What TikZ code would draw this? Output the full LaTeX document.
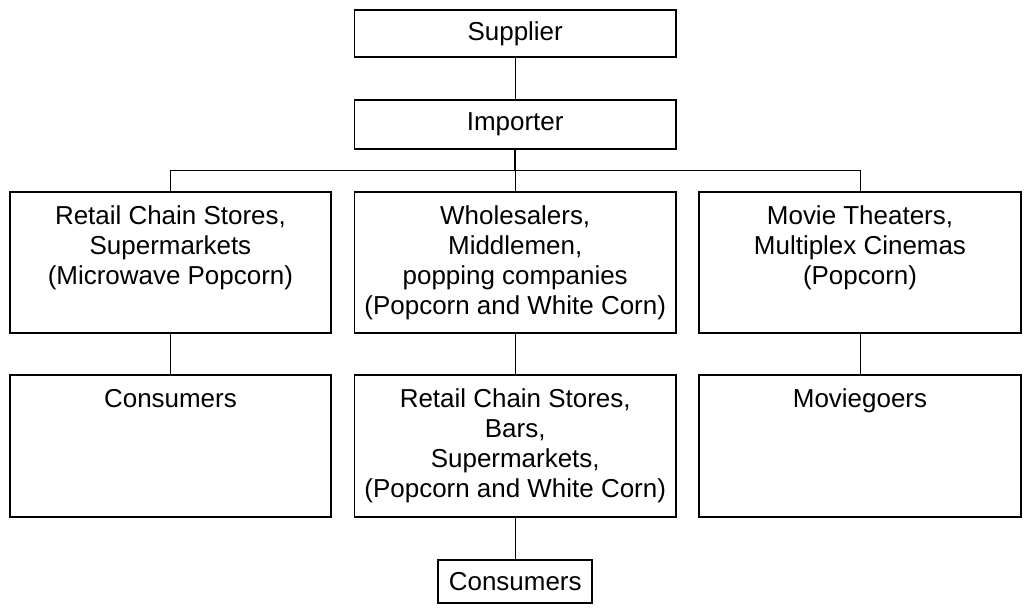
\documentclass[tikz,border=0pt]{standalone}
\usepackage{fontspec}
\setmainfont{Liberation Sans}
\usetikzlibrary{positioning}

\begin{document}
\begin{tikzpicture}[x=1pt, y=-1pt,
		box/.style={draw, line width=1.8pt, inner sep=0pt, minimum width=328pt},
		txt/.style={inner sep=0pt, align=center, font=\fontsize{26.5}{30.6}\selectfont},
		link/.style={line width=0.9pt},
		trunk/.style={line width=1.8pt}]
	\useasboundingbox (0, 0) rectangle (1053.6, 628);

	\coordinate (bus) at (526, 174);
	\coordinate (busL) at (174, 174);
	\coordinate (busR) at (878, 174);

	\node[box, txt, minimum height=48pt] (supplier) at (526, 34) {Supplier};
	\node[box, txt, minimum height=50pt] (importer) at (526, 127) {Importer};

	% first row
	\node[box, minimum height=144pt] (retail) at (174, 268) {};
	\node[box, minimum height=144pt] (wholesale) at (526, 268) {};
	\node[box, minimum height=144pt] (theaters) at (878, 268) {};
	\node[txt, below=15pt of retail.north] (retail-t) {Retail Chain Stores,\\Supermarkets\\(Microwave Popcorn)};
	\node[txt, below=15pt of wholesale.north] (wholesale-t) {Wholesalers,\\Middlemen,\\popping companies\\(Popcorn and White Corn)};
	\node[txt, below=15pt of theaters.north] (theaters-t) {Movie Theaters,\\Multiplex Cinemas\\(Popcorn)};

	% second row
	\node[box, minimum height=145pt] (consumers) at (174, 455.5) {};
	\node[box, minimum height=145pt] (stores) at (526, 455.5) {};
	\node[box, minimum height=145pt] (moviegoers) at (878, 455.5) {};
	\node[txt, below=15pt of consumers.north] (consumers-t) {Consumers};
	\node[txt, below=15pt of stores.north] (stores-t) {Retail Chain Stores,\\Bars,\\Supermarkets,\\(Popcorn and White Corn)};
	\node[txt, below=15pt of moviegoers.north] (moviegoers-t) {Moviegoers};

	\node[box, txt, minimum width=157pt, minimum height=44pt] (endusers) at (526, 594) {Consumers};

	\draw[link] (supplier) -- (importer);
	\draw[trunk] (importer) -- (bus);
	\draw[trunk] (busL) -- (busR);
	\draw[link] (busL) -- (retail);
	\draw[link] (bus) -- (wholesale);
	\draw[link] (busR) -- (theaters);
	\draw[link] (retail) -- (consumers);
	\draw[link] (wholesale) -- (stores);
	\draw[link] (theaters) -- (moviegoers);
	\draw[link] (stores) -- (endusers);
\end{tikzpicture}
\end{document}
